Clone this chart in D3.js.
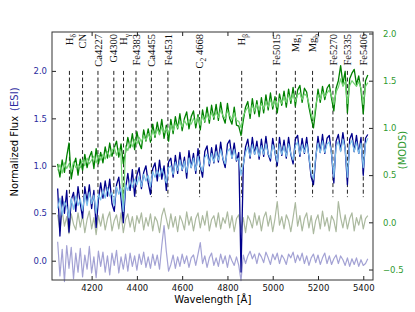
<!DOCTYPE html>
<html>
<head>
<meta charset="utf-8">
<script src="https://cdn.jsdelivr.net/npm/d3@7"></script>
<style>
  body { margin: 0; background: #fff; }
  text { font-family: "DejaVu Sans", sans-serif; }
</style>
</head>
<body>
<svg id="chart" width="415" height="312"></svg>
<script>
// spectra sampled every 10 A from 4050 A
const waveStart = 4050;
const waveStep = 10;

// MODS spectrum (right axis)
const modsData = [
  0.62, 0.48, 0.66, 0.53, 0.70, 0.84, 0.46, 0.60, 0.68, 0.50,
  0.67, 0.55, 0.72, 0.58, 0.69, 0.75, 0.57, 0.78, 0.62, 0.74,
  0.63, 0.80, 0.68, 0.84, 0.70, 0.79, 0.86, 0.69, 0.83, 0.62,
  0.74, 0.90, 0.79, 0.94, 0.77, 0.96, 0.84, 0.78, 0.98, 0.86,
  0.99, 0.85, 1.04, 0.90, 1.06, 0.93, 1.09, 0.89, 1.03, 0.86,
  1.09, 0.94, 1.12, 0.99, 1.15, 0.97, 1.10, 1.17, 0.99, 1.12,
  1.18, 1.00, 1.14, 0.98, 1.19, 1.06, 1.22, 1.05, 1.24, 1.09,
  1.25, 1.08, 1.27, 1.12, 1.05, 1.26, 1.10, 1.04, 1.22, 1.03,
  1.02, 0.92, 1.08, 1.22, 1.28, 1.10, 1.31, 1.15, 1.29, 1.12,
  1.32, 1.16, 1.35, 1.19, 1.37, 1.20, 1.33, 1.16, 1.36, 1.24,
  1.39, 1.22, 1.41, 1.26, 1.43, 1.23, 1.40, 1.45, 1.27, 1.42,
  1.38, 1.22, 1.10, 1.00, 1.20, 1.41, 1.27, 1.44, 1.30, 1.42,
  1.46, 1.31, 1.18, 1.42, 1.50, 1.66, 1.47, 1.60, 1.16, 1.52,
  1.58, 1.62, 1.46, 1.55, 1.40, 1.15, 1.50, 1.56
];
const modsModel = [
  0.55, 0.61, 0.52, 0.63, 0.57, 0.62, 0.54, 0.64, 0.58, 0.61,
  0.58, 0.66, 0.60, 0.68, 0.62, 0.66, 0.70, 0.63, 0.71, 0.66,
  0.72, 0.67, 0.75, 0.69, 0.76, 0.79, 0.71, 0.78, 0.70, 0.10,
  0.81, 0.76, 0.85, 0.80, 0.88, 0.83, 0.90, 0.85, 0.92, 0.87,
  0.94, 0.88, 0.97, 0.92, 0.99, 0.93, 1.01, 0.95, 1.00, 0.94,
  1.03, 0.97, 1.05, 1.00, 1.07, 1.01, 1.08, 1.03, 1.09, 1.04,
  1.10, 1.05, 1.12, 1.03, 1.13, 1.07, 1.15, 1.09, 1.16, 1.11,
  1.17, 1.11, 1.19, 1.13, 1.10, 1.18, 1.13, 1.09, 1.16, 1.08,
  1.07, 1.00, 1.13, 1.18, 1.22, 1.15, 1.24, 1.18, 1.25, 1.19,
  1.26, 1.20, 1.28, 1.22, 1.30, 1.23, 1.29, 1.22, 1.31, 1.26,
  1.33, 1.27, 1.35, 1.29, 1.36, 1.28, 1.35, 1.37, 1.30, 1.36,
  1.34, 1.26, 1.15, 1.08, 1.24, 1.35, 1.30, 1.38, 1.33, 1.37,
  1.40, 1.34, 1.25, 1.38, 1.43, 1.52, 1.44, 1.49, 1.26, 1.45,
  1.50, 1.47, 1.44, 1.49, 1.42, 1.25, 1.44, 1.48
];
// ESI spectrum (left axis)
const esiData = [
  0.76, 0.26, 0.68, 0.50, 0.74, 0.30, 0.64, 0.72, 0.52, 0.78,
  0.60, 0.45, 0.78, 0.62, 0.80, 0.55, 0.74, 0.35, 0.64, 0.82,
  0.66, 0.84, 0.68, 0.86, 0.60, 0.52, 0.80, 0.88, 0.66, 0.40,
  0.76, 0.92, 0.74, 0.96, 0.68, 0.90, 0.98, 0.76, 0.93, 1.00,
  0.82, 0.70, 0.97, 1.03, 0.84, 1.06, 0.86, 1.00, 0.74, 1.04,
  1.08, 0.88, 1.11, 0.92, 1.14, 0.95, 1.09, 0.87, 1.16, 0.98,
  1.13, 0.92, 1.18, 1.00, 0.88, 1.15, 1.21, 1.00, 1.19, 1.03,
  1.22, 1.04, 1.25, 1.07, 0.98, 1.23, 1.27, 1.08, 1.24, 1.05,
  1.14, -0.12, 1.00, 1.20, 1.28, 1.08, 1.30, 1.12, 1.26, 1.07,
  1.28, 1.10, 1.31, 1.12, 1.05, 1.29, 1.14, 1.00, 1.30, 1.11,
  1.27, 1.08, 1.30, 1.12, 1.02, 1.28, 1.32, 1.10, 1.29, 1.13,
  1.30, 1.09, 0.88, 0.80, 1.08, 1.31, 1.14, 1.33, 1.13, 1.29,
  1.32, 1.12, 0.82, 1.26, 1.33, 1.16, 1.35, 1.18, 0.80, 1.28,
  1.34, 1.15, 1.32, 1.13, 1.30, 0.90, 1.29, 1.33
];
const esiModel = [
  0.55, 0.66, 0.48, 0.62, 0.57, 0.45, 0.66, 0.54, 0.68, 0.58,
  0.65, 0.53, 0.70, 0.58, 0.72, 0.60, 0.69, 0.50, 0.70, 0.64,
  0.74, 0.66, 0.77, 0.68, 0.72, 0.58, 0.78, 0.70, 0.76, 0.52,
  0.80, 0.74, 0.84, 0.77, 0.86, 0.80, 0.89, 0.78, 0.91, 0.84,
  0.90, 0.78, 0.94, 0.88, 0.95, 0.89, 0.97, 0.90, 0.82, 0.98,
  1.00, 0.91, 1.04, 0.95, 1.06, 0.96, 1.05, 0.93, 1.08, 0.98,
  1.08, 0.95, 1.10, 1.00, 0.94, 1.09, 1.12, 1.02, 1.13, 1.04,
  1.15, 1.06, 1.17, 1.08, 1.02, 1.15, 1.18, 1.08, 1.17, 1.06,
  1.08, 0.90, 1.02, 1.14, 1.20, 1.10, 1.22, 1.12, 1.20, 1.10,
  1.21, 1.12, 1.23, 1.13, 1.08, 1.22, 1.15, 1.04, 1.23, 1.12,
  1.21, 1.10, 1.23, 1.13, 1.06, 1.21, 1.25, 1.12, 1.22, 1.14,
  1.23, 1.10, 0.92, 0.86, 1.10, 1.24, 1.14, 1.26, 1.14, 1.23,
  1.25, 1.13, 0.88, 1.20, 1.26, 1.15, 1.28, 1.18, 0.88, 1.22,
  1.27, 1.15, 1.25, 1.13, 1.24, 0.98, 1.23, 1.29
];
// residuals
const modsResid = [
  0.08, -0.09, 0.12, -0.04, 0.06, -0.12, 0.09, -0.02, -0.08, 0.10,
  -0.05, 0.08, -0.11, 0.03, 0.12, -0.07, 0.05, -0.13, 0.07, -0.04,
  0.09, -0.08, 0.04, 0.11, -0.09, 0.02, 0.08, -0.07, 0.10, -0.11,
  0.03, 0.09, -0.05, 0.06, -0.10, 0.07, -0.01, 0.10, -0.08, 0.05,
  -0.04, 0.09, -0.09, 0.06, 0.01, -0.11, 0.07, 0.15, 0.04, -0.07,
  0.09, -0.05, 0.06, -0.10, 0.07, 0.01, -0.08, 0.11, -0.03, 0.06,
  -0.09, 0.04, 0.10, -0.06, 0.07, -0.03, 0.12, -0.09, 0.03, 0.07,
  -0.05, 0.10, -0.07, 0.05, -0.01, 0.11, -0.06, 0.07, -0.10, 0.04,
  0.08, -0.08, 0.05, -0.11, 0.07, 0.02, -0.06, 0.10, -0.03, 0.07,
  -0.09, 0.05, 0.11, -0.04, 0.07, -0.10, 0.04, 0.22, -0.03, 0.06,
  -0.07, 0.08, 0.02, -0.10, 0.05, 0.21, -0.04, 0.07, -0.09, 0.04,
  0.10, -0.06, 0.07, -0.12, 0.02, 0.08, -0.07, 0.12, -0.04, 0.05,
  -0.09, 0.07, 0.02, -0.10, 0.22, 0.05, -0.06, 0.08, -0.07, 0.04,
  0.10, -0.09, 0.05, -0.03, 0.08, -0.07, 0.04, 0.07
];
const esiResid = [
  0.20, -0.16, 0.12, -0.22, 0.16, -0.08, 0.14, -0.19, 0.08, -0.12,
  0.13, -0.17, 0.06, -0.09, 0.15, -0.13, 0.04, -0.18, 0.10, -0.06,
  0.09, -0.12, 0.05, -0.15, 0.08, -0.05, 0.11, -0.13, 0.04, -0.09,
  0.07, -0.11, 0.08, -0.06, 0.05, -0.10, 0.07, -0.04, 0.09, -0.07,
  0.04, -0.08, 0.07, -0.05, 0.06, -0.09, 0.16, 0.37, 0.10, -0.11,
  -0.04, 0.06, -0.08, 0.04, -0.06, 0.07, -0.03, 0.05, -0.07, 0.03,
  0.06, -0.05, 0.07, 0.19, -0.03, 0.05, -0.07, 0.03, 0.08, -0.05,
  0.03, -0.06, 0.07, -0.03, 0.05, -0.07, 0.06, 0.00, -0.05, 0.04,
  -0.05, -0.21, 0.06, -0.03, 0.05, 0.10, 0.02, 0.07, -0.03, 0.08,
  0.04, -0.02, 0.09, 0.03, -0.04, 0.07, 0.01, 0.08, -0.03, 0.06,
  0.02, -0.04, 0.07, 0.03, 0.09, -0.02, 0.06, 0.00, 0.08, -0.03,
  0.05, -0.05, 0.03, 0.07, -0.02, 0.06, -0.04, 0.03, 0.08, -0.03,
  0.05, -0.04, 0.02, 0.06, -0.03, 0.05, 0.01, -0.05, 0.03, -0.06,
  0.02, -0.04, 0.03, -0.06, 0.01, -0.05, -0.03, 0.02
];

// absorption index labels: [name, subscript, rest]
const lineLabels = [
  ['H', 'δ', ''], ['CN', '', ''], ['Ca4227', '', ''], ['G4300', '', ''],
  ['H', 'γ', ''], ['Fe4383', '', ''], ['Ca4455', '', ''], ['Fe4531', '', ''],
  ['C', '2', ' 4668'], ['H', 'β', ''], ['Fe5015', '', ''], ['Mg', '1', ''],
  ['Mg', 'b', ''], ['Fe5270', '', ''], ['Fe5335', '', ''], ['Fe5406', '', '']
];
const lineWaves = [4102, 4160, 4228, 4298, 4341, 4396, 4464, 4537,
  4677, 4863, 5016, 5100, 5176, 5266, 5330, 5400];

const xTicks = [4200, 4400, 4600, 4800, 5000, 5200, 5400];
const leftTicks = [0, 0.5, 1, 1.5, 2];
const rightTicks = [-0.5, 0, 0.5, 1, 1.5, 2];

const margin = { top: 32, right: 42, bottom: 32, left: 52 };
const W = 415, H = 312;
const svg = d3.select('#chart');

const x = d3.scaleLinear().domain([4025, 5443]).range([margin.left, W - margin.right]);
const yL = d3.scaleLinear().domain([-0.2035, 2.41]).range([H - margin.bottom, margin.top]);
const yR = d3.scaleLinear().domain([-0.611, 2.016]).range([H - margin.bottom, margin.top]);

const wave = i => waveStart + i * waveStep;

// index markers
svg.append('g').selectAll('line').data(lineWaves).join('line')
  .attr('x1', d => x(d)).attr('x2', d => x(d))
  .attr('y1', yL(2.0)).attr('y2', yL(0.67))
  .attr('stroke', '#222').attr('stroke-width', 1)
  .attr('stroke-dasharray', '4,2.6');

const series = [
  { vals: esiResid, y: yL, color: '#a3a2d4', w: 1.2 },
  { vals: modsResid, y: yR, color: '#abb99f', w: 1.2 },
  { vals: modsData, y: yR, color: '#008000', w: 1.3 },
  { vals: modsModel, y: yR, color: '#73d273', w: 1.2 },
  { vals: esiData, y: yL, color: '#00008b', w: 1.3 },
  { vals: esiModel, y: yL, color: '#7cbfeb', w: 1.2 }
];

const plot = svg.append('g');
series.forEach(s => {
  const line = d3.line().x((d, i) => x(wave(i))).y(d => s.y(d));
  plot.append('path')
    .datum(s.vals)
    .attr('d', line)
    .attr('fill', 'none')
    .attr('stroke', s.color)
    .attr('stroke-width', s.w)
    .attr('stroke-linejoin', 'round');
});

// labels at the top
const labels = svg.append('g').selectAll('text').data(lineLabels).join('text')
  .attr('transform', (d, i) => `translate(${x(lineWaves[i])},34) rotate(-90)`)
  .attr('text-anchor', 'end')
  .attr('dy', '0.35em')
  .style('font-family', '"Liberation Serif", serif')
  .style('font-size', '10.5px')
  .attr('fill', '#111');
labels.each(function (d) {
  const t = d3.select(this);
  t.append('tspan').text(d[0]);
  if (d[1]) {
    t.append('tspan').attr('dy', 2.5).style('font-size', '7.5px').text(d[1]);
    if (d[2]) t.append('tspan').attr('dy', -2.5).text(d[2]);
  }
});

// axes, ticks inside
const fontSize = '8.5px';
const gx = svg.append('g').attr('transform', `translate(0,${H - margin.bottom})`)
  .call(d3.axisBottom(x).tickValues(xTicks).tickSize(-4).tickPadding(4.5).tickFormat(d3.format('d')));
svg.append('g').attr('transform', `translate(0,${margin.top})`)
  .call(d3.axisTop(x).tickValues(xTicks).tickSize(-4).tickFormat(''));
const gl = svg.append('g').attr('transform', `translate(${margin.left},0)`)
  .call(d3.axisLeft(yL).tickValues(leftTicks).tickSize(-4).tickPadding(5).tickFormat(d3.format('.1f')));
const gr = svg.append('g').attr('transform', `translate(${W - margin.right},0)`)
  .call(d3.axisRight(yR).tickValues(rightTicks).tickSize(-4).tickPadding(10)
    .tickFormat(d => d < 0 ? '\u2212' + d3.format('.1f')(-d) : d3.format('.1f')(d)));

svg.selectAll('.domain').remove();
svg.selectAll('.tick line').attr('stroke', '#222');
svg.selectAll('.tick text').style('font-size', fontSize).style('font-family', '"DejaVu Sans", sans-serif');
gx.selectAll('.tick text').attr('fill', '#111');
gl.selectAll('.tick text').attr('fill', '#2b2b9e');
gr.selectAll('.tick text').attr('fill', '#2f9a2f');

svg.append('rect')
  .attr('x', margin.left).attr('y', margin.top)
  .attr('width', W - margin.left - margin.right)
  .attr('height', H - margin.top - margin.bottom)
  .attr('fill', 'none').attr('stroke', '#333').attr('stroke-width', 1);

// axis titles
svg.append('text')
  .attr('x', x(4735)).attr('y', 303)
  .attr('text-anchor', 'middle')
  .style('font-size', '10px')
  .text('Wavelength [\u00c5]');

const yt = svg.append('text')
  .attr('transform', 'translate(18,142) rotate(-90)')
  .attr('text-anchor', 'middle')
  .style('font-size', '10px');
yt.append('tspan').text('Normalized Flux');
yt.append('tspan').attr('dx', 5).attr('fill', '#2b2b9e').text('(ESI)');

svg.append('text')
  .attr('transform', 'translate(406,150) rotate(-90)')
  .attr('text-anchor', 'middle')
  .style('font-size', '10px')
  .attr('fill', '#2f9a2f')
  .text('(MODS)');
</script>
</body>
</html>
